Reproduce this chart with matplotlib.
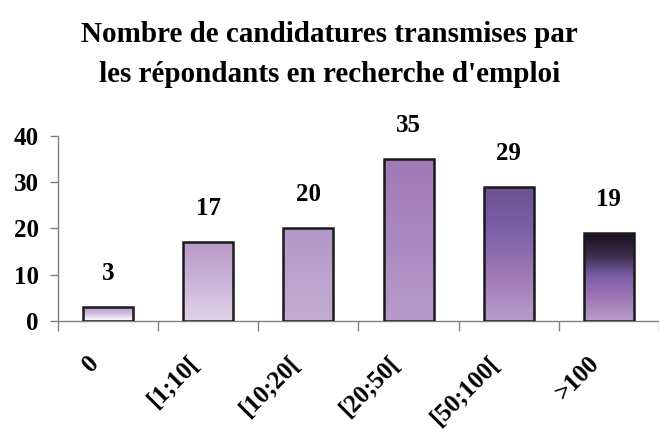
"""Bar chart: candidatures transmises par les répondants."""
import numpy as np
import matplotlib
matplotlib.use("Agg")
import matplotlib.pyplot as plt
from matplotlib.colors import LinearSegmentedColormap

categories = ["0", "[1;10[", "[10;20[", "[20;50[", "[50;100[", ">100"]
values = [3, 17, 20, 35, 29, 19]

# gradient stops (bottom -> top) for each bar
bar_stops = [
    ["#ffffff", "#d4c0e0", "#b498c8"],
    ["#e2d2e8", "#cbb4d8", "#b898c8"],
    ["#c4acd4", "#bca2ce", "#b498c8"],
    ["#b89ccc", "#aa88c0", "#a07ab4"],
    ["#b89ccc", "#a07ab4", "#7c60a8", "#6c5090"],
    ["#b89ccc", "#a07ab4", "#7c60a8", "#3a2c48", "#1a1020"],
]

plt.rcParams["font.family"] = ["Liberation Serif", "DejaVu Serif"]
plt.rcParams["font.weight"] = "bold"

fig = plt.figure(figsize=(6.59, 4.29), dpi=100)
ax = fig.add_axes([0.088, 0.252, 0.912, 0.431])

x = np.arange(len(categories))
bars = ax.bar(x, values, width=0.5, facecolor="none", edgecolor="#1a1a1a",
              linewidth=1.8, zorder=3)

grad = np.linspace(0, 1, 256).reshape(-1, 1)
for b, stops in zip(bars, bar_stops):
    cmap = LinearSegmentedColormap.from_list("g", stops)
    x0, y0 = b.get_x(), b.get_y()
    im = ax.imshow(grad, cmap=cmap, origin="lower", aspect="auto",
                   extent=[x0, x0 + b.get_width(), y0, y0 + b.get_height()],
                   zorder=2)
    im.set_clip_path(b)

for xi, v in zip(x, values):
    ax.annotate(str(v), (xi, v), xytext=(0, 16), textcoords="offset points",
                ha="center", va="bottom", fontsize=18, fontweight="bold")

ax.set_xlim(-0.5, len(categories) - 0.5)
ax.set_ylim(0, 40)
ax.set_yticks([0, 10, 20, 30, 40])
ax.tick_params(axis="y", labelsize=18, length=6, width=1, color="#808080", pad=8)

ax.set_xticks(np.arange(len(categories) + 1) - 0.5, minor=False)
ax.set_xticklabels([])
ax.tick_params(axis="x", length=7, width=1, color="#808080")
for xi, lab in zip(x, categories):
    ax.text(xi - 0.21, -6.6, lab, rotation=45, rotation_mode="anchor",
            ha="right", va="top", fontsize=18, fontweight="bold")

for s in ["top", "right"]:
    ax.spines[s].set_visible(False)
for s in ["left", "bottom"]:
    ax.spines[s].set_color("#808080")
    ax.spines[s].set_linewidth(1)

fig.text(0.5, 1 - 35 / 429, "Nombre de candidatures transmises par",
         ha="center", va="center", fontsize=21, fontweight="bold")
fig.text(0.5, 1 - 75 / 429, "les répondants en recherche d'emploi",
         ha="center", va="center", fontsize=21, fontweight="bold")

plt.savefig("out.png", dpi=100)
plt.close()
